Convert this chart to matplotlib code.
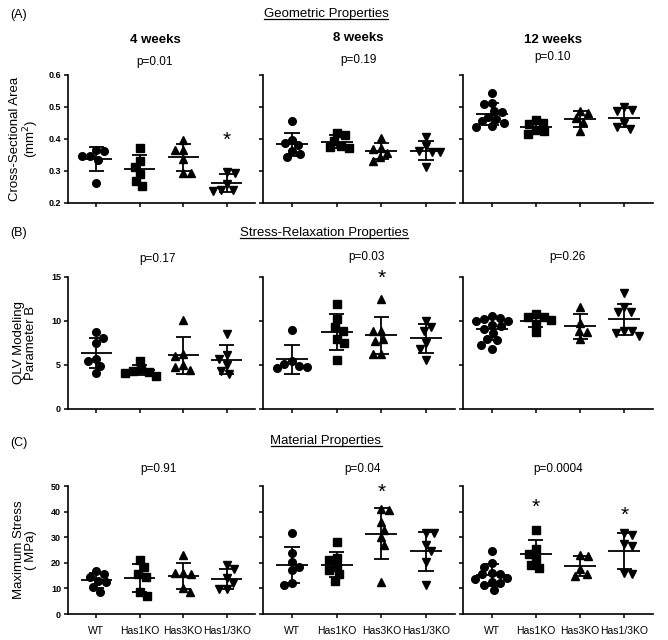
import numpy as np
import matplotlib.pyplot as plt

plt.rcParams['font.family'] = ['Liberation Sans', 'DejaVu Sans']

groups = ['WT', 'Has1KO', 'Has3KO', 'Has1/3KO']
weeks = ['4 weeks', '8 weeks', '12 weeks']
markers = ['o', 's', '^', 'v']

# (A) cross-sectional area, mm^2
csa_4wk = [[0.361, 0.365, 0.347, 0.347, 0.335, 0.263],
           [0.373, 0.332, 0.311, 0.291, 0.270, 0.253],
           [0.398, 0.367, 0.367, 0.337, 0.295, 0.295],
           [0.297, 0.295, 0.258, 0.242, 0.240, 0.238]]
csa_8wk = [[0.455, 0.387, 0.398, 0.381, 0.363, 0.353, 0.344],
           [0.419, 0.411, 0.395, 0.379, 0.372, 0.374],
           [0.402, 0.372, 0.355, 0.368, 0.345, 0.332],
           [0.405, 0.377, 0.360, 0.358, 0.364, 0.314]]
csa_12wk = [[0.545, 0.508, 0.512, 0.488, 0.485, 0.470, 0.450, 0.455, 0.436, 0.440, 0.462],
            [0.451, 0.460, 0.447, 0.428, 0.426, 0.416],
            [0.486, 0.481, 0.465, 0.453, 0.426],
            [0.492, 0.500, 0.488, 0.451, 0.432, 0.437]]
p_csa = ['p=0.01', 'p=0.19', 'p=0.10']

# (B) QLV parameter B
qlv_4wk = [[8.7, 8.1, 7.5, 5.7, 5.5, 4.9, 4.1],
           [5.5, 4.6, 4.2, 3.8, 4.1, 4.3],
           [10.1, 6.3, 6.0, 5.0, 4.8, 4.4],
           [8.5, 6.1, 5.7, 5.0, 4.3, 4.0]]
qlv_8wk = [[9.0, 5.4, 4.9, 4.7, 4.8, 5.1],
           [11.9, 10.2, 8.9, 9.3, 7.9, 7.5, 5.6],
           [12.5, 8.9, 8.9, 8.0, 7.7, 6.3, 6.3],
           [10.0, 9.3, 8.9, 7.5, 6.8, 5.6]]
qlv_12wk = [[10.6, 10.2, 10.0, 10.0, 10.3, 9.4, 9.5, 9.1, 8.6, 8.0, 7.8, 7.3, 6.8],
            [10.8, 10.5, 10.5, 10.1, 9.7, 8.7],
            [11.6, 9.8, 8.9, 8.8, 7.9],
            [13.2, 11.0, 11.0, 11.6, 8.9, 8.3, 8.6, 8.9]]
p_qlv = ['p=0.17', 'p=0.03', 'p=0.26']

# (C) maximum stress, MPa
stress_4wk = [[16.7, 15.8, 14.5, 13.0, 12.5, 10.5, 8.7],
              [21.0, 18.2, 15.8, 14.5, 8.7, 7.0],
              [23.0, 16.2, 16.0, 15.5, 10.2, 8.4],
              [19.3, 17.6, 14.0, 12.0, 9.8, 9.6]]
stress_8wk = [[31.5, 24.0, 20.3, 18.5, 17.0, 12.0, 11.3],
              [28.0, 21.7, 21.0, 18.5, 17.0, 15.5, 12.8],
              [41.0, 40.5, 36.0, 33.0, 30.0, 27.0, 12.5],
              [31.8, 31.5, 27.0, 24.5, 20.5, 11.5]]
stress_12wk = [[24.8, 20.0, 18.5, 16.0, 15.8, 15.5, 14.0, 13.5, 12.5, 12.0, 11.3, 9.5],
               [33.0, 25.5, 23.5, 21.5, 19.0, 18.0],
               [23.0, 22.5, 17.5, 15.5, 15.0],
               [31.5, 31.0, 27.5, 26.5, 16.0, 15.8]]
p_stress = ['p=0.91', 'p=0.04', 'p=0.0004']

W, H = 668, 640
fig = plt.figure(figsize=(W / 100, H / 100), dpi=100)


def px(x, y):
    return x / W, 1 - y / H


def swarm(vals, y_per_unit, x_per_unit, d=8.0):
    # simple beeswarm in pixel space so markers don't pile up
    vals = np.asarray(vals, float)
    order = np.argsort(-vals, kind='stable')
    offs = np.zeros(len(vals))
    placed = []
    steps = np.arange(0, 30, 0.5)
    for n, i in enumerate(order):
        y = vals[i] * y_per_unit
        sign = 1 if n % 2 else -1
        cands = [0.0]
        for s in steps[1:]:
            cands += [sign * s, -sign * s]
        for c in cands:
            if all((c - px_) ** 2 + (y - py) ** 2 >= d * d for px_, py in placed):
                break
        placed.append((c, y))
        offs[i] = c / x_per_unit
    return offs


def panel(ax, data, ylim, yticks, show_y, show_x, height_px, width_px):
    span = ylim[1] - ylim[0]
    y_per_unit = height_px / span
    x_per_unit = width_px / 4.3
    for i, vals in enumerate(data):
        offs = swarm(vals, y_per_unit, x_per_unit)
        ms = 6 if markers[i] in '^v' else 5.5
        ax.plot(i + offs, vals, ls='none', marker=markers[i], ms=ms,
                color='black', mec='black')
        m = np.mean(vals)
        s = np.std(vals, ddof=1)
        ax.hlines(m, i - 0.36, i + 0.36, color='black', lw=1.3)
        ax.vlines(i, m - s, m + s, color='black', lw=1.3)
        ax.hlines([m - s, m + s], i - 0.17, i + 0.17, color='black', lw=1.3)
    ax.set_xlim(-0.65, 3.65)
    ax.set_ylim(*ylim)
    ax.set_yticks(yticks)
    ax.set_xticks(range(len(groups)))
    for sp in ['top', 'right']:
        ax.spines[sp].set_visible(False)
    for sp in ['left', 'bottom']:
        ax.spines[sp].set_linewidth(1.2)
    ax.tick_params(direction='out', length=3, width=1.1, pad=2)
    if show_y:
        ax.set_yticklabels([f'{t:g}' for t in yticks], fontsize=6.5, fontweight='bold')
    else:
        ax.set_yticklabels([])
    if show_x:
        ax.set_xticklabels(groups, fontsize=7.5)
        ax.tick_params(axis='x', pad=6)
    else:
        ax.set_xticklabels([])


col_left = [68, 263, 463]
col_width = [187, 192, 190]
row_top = [75, 277, 486]
row_bottom = [203, 409, 614]

rows = [
    ([csa_4wk, csa_8wk, csa_12wk], (0.2, 0.6), [0.2, 0.3, 0.4, 0.5, 0.6],
     'Cross-Sectional Area\n(mm$^2$)'),
    ([qlv_4wk, qlv_8wk, qlv_12wk], (0, 15), [0, 5, 10, 15],
     'QLV Modeling\nParameter B'),
    ([stress_4wk, stress_8wk, stress_12wk], (0, 50), [0, 10, 20, 30, 40, 50],
     'Maximum Stress\n( MPa)'),
]

axes = []
for r, (datasets, ylim, yticks, ylabel) in enumerate(rows):
    row_axes = []
    h_px = row_bottom[r] - row_top[r]
    for c in range(3):
        l, b = px(col_left[c], row_bottom[r])
        ax = fig.add_axes([l, b, col_width[c] / W, h_px / H])
        panel(ax, datasets[c], ylim, yticks, c == 0, r == 2, h_px, col_width[c])
        row_axes.append(ax)
    fig.text(*px(25, (row_top[r] + row_bottom[r]) / 2), ylabel, fontsize=9.5,
             rotation=90, ha='center', va='center', multialignment='center',
             linespacing=1.0)
    axes.append(row_axes)

# significance stars (group index, y in data units)
stars = {(0, 0): [(3, 0.397)],
         (1, 1): [(2, 14.8)],
         (2, 1): [(2, 47.5)],
         (2, 2): [(1, 41.5), (3, 38.5)]}
for (r, c), items in stars.items():
    for gi, y in items:
        axes[r][c].text(gi, y, '*', ha='center', va='center', fontsize=15)

# panel letters and underlined section titles
sections = ['Geometric Properties', 'Stress-Relaxation Properties', 'Material Properties']
letters = ['(A)', '(B)', '(C)']
letter_y = [15, 233, 443]
section_xy = [(326, 14), (324, 233), (326, 441)]
renderer = fig.canvas.get_renderer()
for s, lab, ly, (sx, sy) in zip(sections, letters, letter_y, section_xy):
    fig.text(*px(10, ly), lab, fontsize=9, ha='left', va='center')
    t = fig.text(*px(sx, sy), s, fontsize=9.5, ha='center', va='center')
    bb = t.get_window_extent(renderer)
    yl = (bb.y0 + 1.5) / H
    fig.add_artist(plt.Line2D([bb.x0 / W, bb.x1 / W], [yl, yl], color='black', lw=0.9,
                              transform=fig.transFigure))

week_xy = [(155, 40), (358, 38), (553, 40)]
for wk, (wx, wy) in zip(weeks, week_xy):
    fig.text(*px(wx, wy), wk, fontsize=9.5, fontweight='bold', ha='center', va='center')

p_pos = [[(155, 62), (358, 60), (553, 57)],
         [(158, 259), (366, 257), (567, 257)],
         [(158, 469), (363, 469), (558, 469)]]
for labels, pos in zip([p_csa, p_qlv, p_stress], p_pos):
    for lab, (x, y) in zip(labels, pos):
        fig.text(*px(x, y), lab, fontsize=8.5, ha='center', va='center')

fig.savefig('out.png', dpi=100)
